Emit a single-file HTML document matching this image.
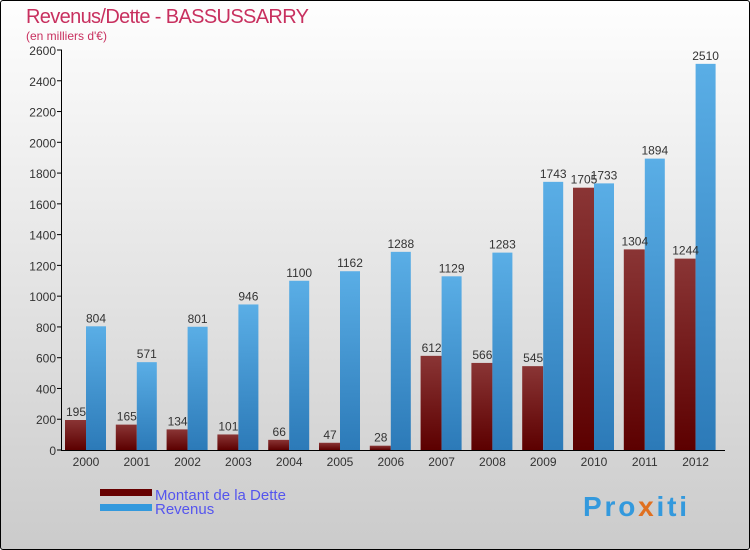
<!DOCTYPE html>
<html><head><meta charset="utf-8"><style>
body{margin:0;width:750px;height:550px;overflow:hidden;font-family:"Liberation Sans",sans-serif}
#frame{position:absolute;left:0;top:0;width:748px;height:548px;border:1px solid #000;border-radius:3px;background:linear-gradient(#fefefe,#cbcbcb)}
</style></head><body>
<div id="frame"></div>
<svg id="chart" width="750" height="550" style="position:absolute;left:0;top:0">
<defs>
<linearGradient id="gd" x1="0" y1="0" x2="0" y2="1"><stop offset="0" stop-color="#8a3535"/><stop offset="1" stop-color="#5c0000"/></linearGradient>
<linearGradient id="gr" x1="0" y1="0" x2="0" y2="1"><stop offset="0" stop-color="#5aaee6"/><stop offset="1" stop-color="#2c7ab8"/></linearGradient>
</defs>
<text x="26" y="23" font-size="20" fill="#c8305f" textLength="283">Revenus/Dette - BASSUSSARRY</text>
<text x="26" y="40" font-size="12" fill="#c8305f">(en milliers d'€)</text>
<g id="marks"></g>
<g>
<rect x="100" y="489" width="52" height="7" fill="#660000"/>
<text x="155" y="500" font-size="15" fill="#5555ee">Montant de la Dette</text>
<rect x="100" y="504" width="52" height="7" fill="#3399dd"/>
<text x="155" y="514" font-size="15" fill="#5555ee">Revenus</text>
</g>
<text x="583" y="516" font-size="28" font-weight="bold" fill="#3399dd" textLength="104">Pro<tspan fill="#e07020">x</tspan>iti</text>
</svg>
<script>
const categories=["2000","2001","2002","2003","2004","2005","2006","2007","2008","2009","2010","2011","2012"];
const debtValues=[195,165,134,101,66,47,28,612,566,545,1705,1304,1244];
const revenueValues=[804,571,801,946,1100,1162,1288,1129,1283,1743,1733,1894,2510];
const yTicks=[0,200,400,600,800,1000,1200,1400,1600,1800,2000,2200,2400,2600];
const NS="http://www.w3.org/2000/svg";
const g=document.getElementById('marks');
const x0=63,band=50.8,yZero=450,yMax=2600,yTop=50;
const y=v=>yZero-(v/yMax)*(yZero-yTop);
const bx=i=>x0+i*band;
function mk(t,a,txt){const e=document.createElementNS(NS,t);for(const k in a)e.setAttribute(k,a[k]);if(txt!==undefined)e.textContent=txt;g.appendChild(e);return e;}
yTicks.forEach(v=>{
 const l=mk('line',{x1:57,x2:62,y1:y(v),y2:y(v),stroke:'#000'});
 
 
 const t=mk('text',{x:56,y:y(v)+5,'font-size':12,fill:'#333','text-anchor':'end'},v);
 
 
});
categories.forEach((c,i)=>{
 const d=debtValues[i],r=revenueValues[i];
 const b1=mk('rect',{x:bx(i)+2,y:y(d),width:21,height:yZero-y(d),fill:'url(#gd)'});
 
 
 const b2=mk('rect',{x:bx(i)+23,y:y(r),width:20,height:yZero-y(r),fill:'url(#gr)'});
 
 
 const t1=mk('text',{x:bx(i)+13,y:y(d)-4,'font-size':12,fill:'#333','text-anchor':'middle'},d);
 
 
 const t2=mk('text',{x:bx(i)+33,y:y(r)-4,'font-size':12,fill:'#333','text-anchor':'middle'},r);
 
 
 const xl=mk('text',{x:bx(i)+23,y:466,'font-size':12,fill:'#333','text-anchor':'middle'},c);
 
 
});
const ya=mk('line',{x1:61.5,x2:61.5,y1:50,y2:450,stroke:'#000'});


const xa=mk('line',{x1:61,x2:725,y1:450.5,y2:450.5,stroke:'#000'});


</script>
</body></html>
